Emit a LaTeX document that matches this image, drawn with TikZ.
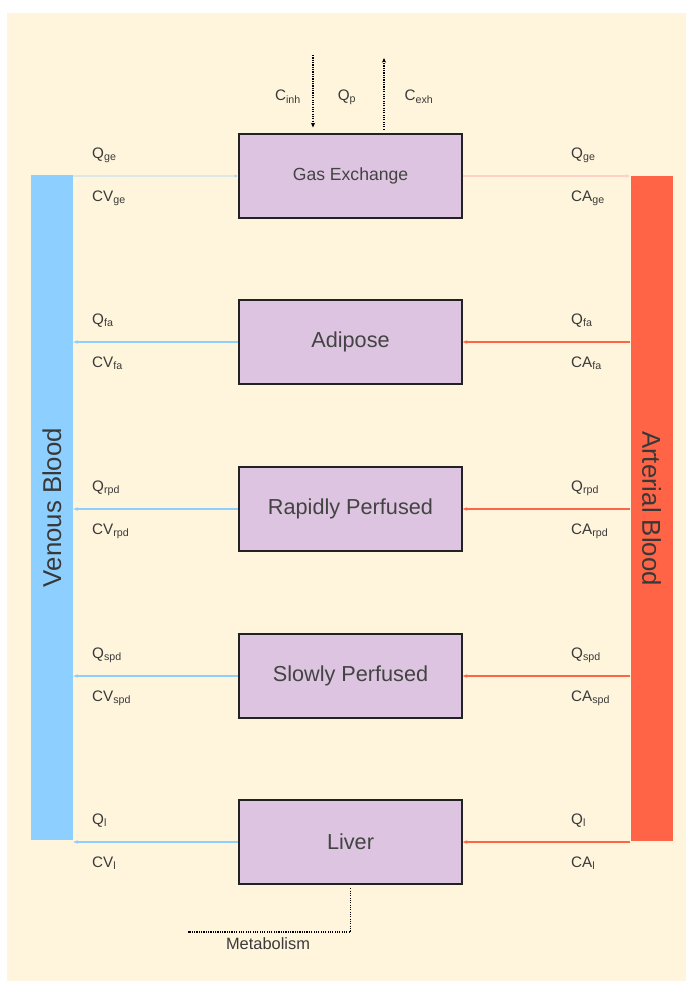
\documentclass[tikz,border=0pt]{standalone}
\usepackage{fontspec}
\setmainfont{Liberation Sans}
\usetikzlibrary{arrows.meta}
\definecolor{cCream}{HTML}{FFF5DC}
\definecolor{cVenous}{HTML}{8DD0FF}
\definecolor{cArterial}{HTML}{FF6446}
\definecolor{cOrgan}{HTML}{DDC4E0}
\definecolor{cEdge}{HTML}{222222}
\definecolor{cText}{HTML}{3A3A3A}

\begin{document}
\begin{tikzpicture}[
  x=0.03cm, y=-0.03cm,
  every node/.style={font=\fontsize{13}{15}\selectfont, text=cText},
  organ/.style={draw=cEdge, line width=1.1pt, fill=cOrgan, minimum width=6.69cm, minimum height=2.52cm, font=\fontsize{18.5}{21}\selectfont, text=cEdge!85},
  bar/.style={minimum width=19.95cm, minimum height=1.26cm, inner sep=0pt, font=\fontsize{22}{24}\selectfont, text=cEdge!90},
  vflow/.style={draw=cVenous, line width=1pt, -{Stealth[length=4pt,width=3pt]}},
  aflow/.style={draw=cArterial, line width=1pt, -{Stealth[length=4pt,width=3pt]}},
  air/.style={line width=1.3pt, dash pattern=on 1pt off 1pt, -{Stealth[length=4pt,width=3.5pt]}},
  lbl/.style={anchor=base west, inner sep=0pt},
]

\useasboundingbox (0,0) rectangle (686,981);
\fill[cCream] (7,13) rectangle (686,981);

% blood pools (rotated, so .south is the inner edge)
\node[bar, fill=cVenous, rotate=90] (venous) at (52,507.5) {Venous Blood};
\node[bar, fill=cArterial, rotate=-90] (arterial) at (651.5,508.5) {Arterial Blood};

% lung compartment
\node[organ, font=\fontsize{15}{17}\selectfont] (gas) at (350.5,176) {Gas Exchange};
\draw[vflow, draw opacity=0.3] (venous.south |- gas.west) -- (gas.west);
\draw[aflow, draw=cArterial!30] (gas.east) -- (arterial.south |- gas.east);
\node[lbl] at (92,158) {Q\textsubscript{ge}};
\node[lbl] at (92,201) {CV\textsubscript{ge}};
\node[lbl] at (571,158) {Q\textsubscript{ge}};
\node[lbl] at (571,201) {CA\textsubscript{ge}};

\coordinate (inh) at (313,55);
\coordinate (exh) at (384,58);
\draw[air, shorten >=5pt] (inh) -- (inh |- gas.north);
\draw[air, shorten <=3pt] (exh |- gas.north) -- (exh);
\node (cinh) at (288,97) {C\textsubscript{inh}};
\node (qp) at (347,97) {Q\textsubscript{p}};
\node (cexh) at (419,97) {C\textsubscript{exh}};

% tissue compartments
\foreach \name/\txt/\y/\sub in {fa/Adipose/342/fa, rpd/Rapidly Perfused/509/rpd, spd/Slowly Perfused/676/spd, li/Liver/842/l}{
  \node[organ] (\name) at (350.5,\y) {\txt};
  \draw[vflow] (\name.west) -- (venous.south |- \name.west);
  \draw[aflow] (arterial.south |- \name.east) -- (\name.east);
  \node[lbl] at (92,\y-18) {Q\textsubscript{\sub}};
  \node[lbl] at (92,\y+25) {CV\textsubscript{\sub}};
  \node[lbl] at (571,\y-18) {Q\textsubscript{\sub}};
  \node[lbl] at (571,\y+25) {CA\textsubscript{\sub}};
}

% hepatic clearance
\coordinate (met) at (188,932);
\draw[line width=1.3pt, dash pattern=on 1pt off 1pt, -{Square[length=2.5pt,width=2.5pt]}, shorten <=3pt] (li.south) |- (met);
\node[font=\fontsize{14}{16}\selectfont] (metab) at (268,944) {Metabolism};

\end{tikzpicture}
\end{document}
